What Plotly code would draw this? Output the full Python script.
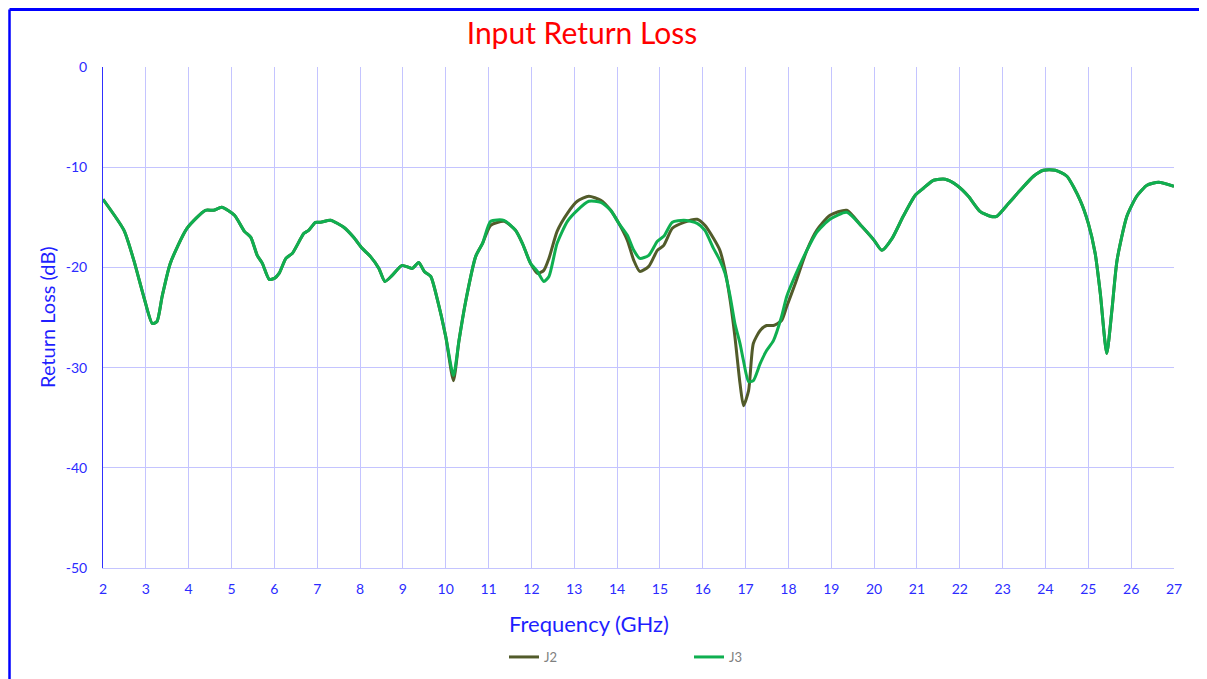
import plotly.graph_objects as go

freq = [2.0, 2.49, 2.72, 2.95, 3.15, 3.26, 3.38, 3.57, 3.96, 4.39, 4.58, 4.77, 5.07, 5.3, 5.45,
        5.6, 5.72, 5.88, 6.0, 6.11, 6.27, 6.42, 6.69, 6.8, 6.96, 7.08, 7.31, 7.62, 7.85, 8.05,
        8.24, 8.44, 8.58, 8.75, 8.98, 9.22, 9.37, 9.5, 9.65, 9.81, 10.0, 10.18, 10.31, 10.47,
        10.7, 10.86, 11.05, 11.36, 11.63, 11.79, 11.98, 12.14, 12.29, 12.41, 12.6, 12.84, 13.07,
        13.34, 13.62, 13.85, 14.04, 14.24, 14.39, 14.53, 14.74, 14.94, 15.09, 15.29, 15.56,
        15.87, 16.05, 16.25, 16.4, 16.52, 16.64, 16.75, 16.87, 16.95, 17.07, 17.18, 17.34,
        17.49, 17.65, 17.84, 17.96, 18.16, 18.43, 18.66, 18.97, 19.36, 19.71, 20.0, 20.18,
        20.42, 20.68, 20.96, 21.15, 21.39, 21.66, 21.93, 22.2, 22.47, 22.71, 22.86, 23.14,
        23.41, 23.72, 23.95, 24.23, 24.5, 24.81, 25.0, 25.16, 25.28, 25.43, 25.55, 25.67,
        25.9, 26.13, 26.37, 26.64, 27.0]

j2 = [-13.2, -16.3, -19.3, -22.9, -25.6, -25.4, -22.9, -19.6, -16.1, -14.3, -14.3, -14.0, -14.8, -16.4, -17.0,
      -18.8, -19.6, -21.2, -21.1, -20.6, -19.1, -18.6, -16.6, -16.3, -15.5, -15.5, -15.3, -16.0, -17.0, -18.1,
      -18.9, -20.1, -21.4, -20.8, -19.8, -20.1, -19.5, -20.4, -20.9, -23.3, -26.9, -31.3, -27.3, -23.3,
      -18.9, -17.6, -15.8, -15.4, -16.3, -17.6, -19.6, -20.6, -20.3, -19.1, -16.4, -14.6, -13.4,
      -12.9, -13.3, -14.3, -15.6, -17.3, -19.3, -20.4, -19.9, -18.3, -17.8, -16.1, -15.5,
      -15.2, -15.8, -17.1, -18.3, -20.3, -23.3, -26.9, -31.6, -33.8, -32.3, -27.6, -26.3,
      -25.8, -25.8, -25.3, -23.9, -21.6, -18.3, -16.3, -14.8, -14.3, -15.9, -17.3, -18.3,
      -17.1, -14.9, -12.8, -12.1, -11.3, -11.2, -11.8, -12.9, -14.4, -14.9, -14.9, -13.6,
      -12.3, -10.9, -10.3, -10.3, -10.9, -13.3, -15.6, -18.6, -22.6, -28.6, -24.3, -19.3,
      -14.9, -12.9, -11.8, -11.5, -11.9]

j3 = [-13.2, -16.3, -19.3, -22.9, -25.6, -25.4, -22.9, -19.6, -16.1, -14.3, -14.3, -14.0, -14.8, -16.4, -17.0,
      -18.8, -19.6, -21.2, -21.1, -20.6, -19.1, -18.6, -16.6, -16.3, -15.5, -15.5, -15.3, -16.0, -17.0, -18.1,
      -18.9, -20.1, -21.4, -20.8, -19.8, -20.1, -19.5, -20.4, -20.9, -23.3, -26.9, -30.8, -27.3, -23.3,
      -18.9, -17.6, -15.4, -15.3, -16.3, -17.6, -19.6, -20.4, -21.4, -20.9, -17.6, -15.4, -14.3,
      -13.4, -13.5, -14.3, -15.6, -16.8, -18.3, -19.1, -18.8, -17.4, -16.9, -15.5, -15.3,
      -15.6, -16.3, -18.1, -19.3, -20.6, -22.9, -25.6, -27.6, -29.3, -31.4, -31.3, -29.6,
      -28.3, -27.3, -24.9, -22.9, -20.8, -18.3, -16.5, -15.2, -14.5, -15.9, -17.3, -18.3,
      -17.1, -14.9, -12.8, -12.1, -11.3, -11.2, -11.8, -12.9, -14.4, -14.9, -14.9, -13.6,
      -12.3, -10.9, -10.3, -10.3, -10.9, -13.3, -15.6, -18.6, -22.6, -28.6, -24.3, -19.3,
      -14.9, -12.9, -11.8, -11.5, -11.9]

x_ticks = list(range(2, 28))
y_ticks = [0, -10, -20, -30, -40, -50]

FONT = "Lato, 'Open Sans', sans-serif"
BLUE = "#2B2BFF"
GRID = "#C4C4FF"

fig = go.Figure()
fig.add_trace(go.Scatter(x=freq, y=j2, name="J2", mode="lines",
                         line=dict(color="#525B2A", width=3, shape="spline", smoothing=0.6)))
fig.add_trace(go.Scatter(x=freq, y=j3, name="J3", mode="lines",
                         line=dict(color="#0FAF50", width=3, shape="spline", smoothing=0.6)))

OFF = 8  # page body margin
W, H = 1207, 679
# desired page-pixel plot box: x 103..1174, y 67..568
L, T = 103 - OFF, 67 - OFF
pw, ph = 1071, 501
R = W - L - pw
B = H - T - ph

def px(xp):
    return (xp - 103) / pw

def py(yp):
    return (568 - yp) / ph

fig.update_layout(
    width=W, height=H,
    margin=dict(l=L, r=R, t=T, b=B),
    paper_bgcolor="white", plot_bgcolor="white",
    title=dict(text="Input Return Loss", font=dict(family=FONT, size=30, color="#FF0000"),
               x=px(582), xref="paper", xanchor="center",
               y=1 - (33 - OFF) / H, yref="container", yanchor="middle"),
    showlegend=True,
    legend=dict(orientation="h", x=px(504), xanchor="left", y=py(657), yanchor="middle",
                font=dict(family=FONT, size=13, color="#808080"),
                entrywidth=140, entrywidthmode="pixels", bgcolor="rgba(0,0,0,0)"),
    xaxis=dict(range=[2, 27], tickvals=x_ticks, ticktext=[str(v) for v in x_ticks],
               showgrid=True, gridcolor=GRID, gridwidth=1,
               showline=True, linecolor=GRID, linewidth=1, mirror=False,
               zeroline=False, ticks="", ticklabelstandoff=8,
               tickfont=dict(family=FONT, size=14, color=BLUE)),
    yaxis=dict(range=[-50, 0], tickvals=y_ticks, ticktext=[str(v) for v in y_ticks],
               showgrid=True, gridcolor=GRID, gridwidth=1,
               showline=True, linecolor="#3030FF", linewidth=1,
               zeroline=False, ticks="", ticklabelstandoff=12,
               tickfont=dict(family=FONT, size=14, color=BLUE)),
    annotations=[
        dict(text="Frequency (GHz)", xref="paper", yref="paper", x=px(589), y=py(623),
             xanchor="center", yanchor="middle", showarrow=False,
             font=dict(family=FONT, size=22, color="#1F1FFF")),
        dict(text="Return Loss (dB)", xref="paper", yref="paper", x=px(47), y=py(317),
             xanchor="center", yanchor="middle", showarrow=False, textangle=-90,
             font=dict(family=FONT, size=20, color="#1F1FFF")),
    ],
    shapes=[
        dict(type="line", xref="paper", yref="paper", x0=px(9.5), x1=px(9.5), y0=py(700), y1=py(9.5),
             line=dict(color="#0000FF", width=2.5)),
        dict(type="line", xref="paper", yref="paper", x0=px(9.5), x1=px(1230), y0=py(9.5), y1=py(9.5),
             line=dict(color="#0000FF", width=3)),
    ],
)

fig.write_html("out.html")
